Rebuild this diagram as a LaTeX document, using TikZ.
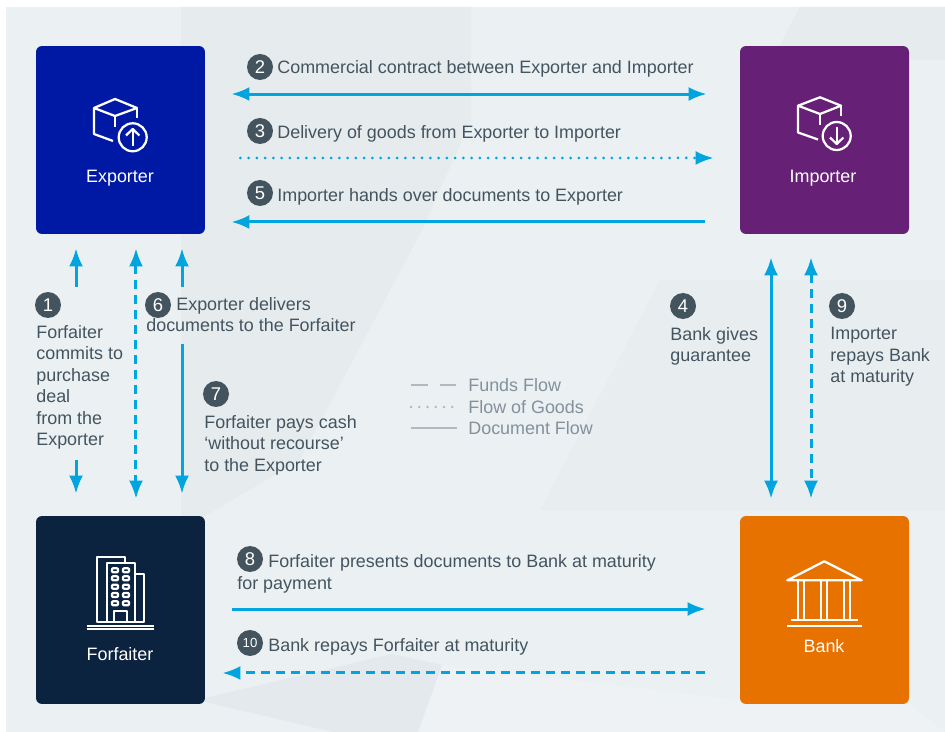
\documentclass[tikz,border=0pt]{standalone}
\usepackage{fontspec}
\setmainfont{Liberation Sans}
\usepackage{xcolor}
\usetikzlibrary{arrows.meta,positioning,calc}
\definecolor{paper}{HTML}{EBF0F3}
\definecolor{paperdark}{HTML}{E6EBEE}
\definecolor{paperfaint}{HTML}{E8EDF0}
\definecolor{paperdeep}{HTML}{E3E9EC}
\definecolor{paperlight}{HTML}{EEF2F5}
\definecolor{exportblue}{HTML}{0019A5}
\definecolor{importpurple}{HTML}{662075}
\definecolor{forfaitnavy}{HTML}{0C233F}
\definecolor{bankorange}{HTML}{E87200}
\definecolor{flowblue}{HTML}{00A5DF}
\definecolor{slate}{HTML}{44545F}
\definecolor{legendtext}{HTML}{82919C}
\definecolor{legendline}{HTML}{AEB9C0}
\tikzset{
	party/.style={rectangle, rounded corners=0.12cm, minimum width=3.38cm, minimum height=3.76cm, inner sep=0pt},
	partyname/.style={text=white, inner sep=0pt, font=\fontsize{10.2pt}{12.2pt}\selectfont},
	badge/.style={circle, fill=slate, text=white, minimum size=0.52cm, inner sep=0pt, font=\fontsize{10.5pt}{10.5pt}\selectfont},
	steptext/.style={text=slate, inner sep=0pt, align=left, anchor=north west, font=\fontsize{10.2pt}{12.2pt}\selectfont},
	legendlabel/.style={text=legendtext, inner sep=0pt, anchor=west, font=\fontsize{10.2pt}{12.2pt}\selectfont},
	flow/.style={draw=flowblue, line width=0.06cm, -{Latex[length=0.36cm,width=0.28cm]}},
	twoway/.style={flow, {Latex[length=0.36cm,width=0.28cm]}-{Latex[length=0.36cm,width=0.28cm]}},
	funds/.style={dash pattern=on 0.18cm off 0.12cm},
	goods/.style={line cap=round, dash pattern=on 0pt off 4.7pt},
	icon/.style={draw=white, line width=0.045cm, line join=round},
	legendstroke/.style={draw=legendline, line width=0.055cm}
}
\begin{document}
\begin{tikzpicture}[x=0.02cm, y=-0.02cm]
	\useasboundingbox (0,0) rectangle (945,732);
	\fill[paper] (6,7) rectangle (945,732);
	\fill[paperdark] (181,7) -- (471,7) -- (471,120) -- (422,230) -- (300,460) -- (205,516) -- (181,516) -- cycle;
	\fill[paperdark] (800,7) -- (945,7) -- (945,60) -- (772,60) -- cycle;
	\fill[paperfaint] (660,280) -- (945,280) -- (945,510) -- (540,510) -- cycle;
	\fill[paperlight] (442,665) -- (740,700) -- (909,704) -- (945,732) -- (418,732) -- cycle;
	\fill[paperdeep] (205,698) -- (392,654) -- (442,665) -- (418,732) -- (333,732) -- (205,702) -- cycle;

	\node at (120.5,140) [party, fill=exportblue] (Exp) {};
	\node at (824.5,140) [party, fill=importpurple] (Imp) {};
	\node at (120.5,610) [party, fill=forfaitnavy] (For) {};
	\node at (824.5,610) [party, fill=bankorange] (Ban) {};

	\node at (120,178) [partyname] (ExpName) {Exporter};
	\node at (823,178) [partyname] (ImpName) {Importer};
	\node at (120,654) [partyname] (ForName) {Forfaiter};
	\node at (824,646) [partyname] (BanName) {Bank};

	% box icons
	\begin{scope}[icon]
		\draw (113,141) -- (94,134) -- (94,108) -- (115,99) -- (137,108) -- (115,116) -- (94,108);
		\draw (115,116) -- (115,127);
		\draw (137,108) -- (137,118);
		\draw (132.7,137.3) circle (14);
		\draw (132.7,146) -- (132.7,130);
		\draw (126,135.5) -- (132.7,129) -- (139.4,135.5);
		\draw (818,139.5) -- (798,132.5) -- (798,105.7) -- (820,97.3) -- (841,105.7) -- (820,114) -- (798,105.7);
		\draw (820,114) -- (820,125);
		\draw (841,105.7) -- (841,116);
		\draw (836.7,136) circle (14);
		\draw (836.7,127) -- (836.7,143);
		\draw (830,137.5) -- (836.7,144) -- (843.4,137.5);
	\end{scope}

	% building
	\begin{scope}[icon]
		\draw (107,621.7) -- (96.7,621.7) -- (96.7,556.7) -- (125,556.7) -- (125,563);
		\draw (107,621.7) -- (107,563) -- (135,563) -- (135,621.7) -- cycle;
		\draw (135,574) -- (144.3,574) -- (144.3,621.7) -- (135,621.7);
		\foreach \wx in {115,126}
			\foreach \wy in {570.3,578.3,586.7,595,603.3}
				\draw[rounded corners=0.02cm] (\wx-3,\wy-2) rectangle (\wx+3,\wy+2);
		\draw (113.7,621.7) -- (113.7,610.7) -- (126.7,610.7) -- (126.7,621.7);
		\draw (86.7,625.7) -- (153.7,625.7);
		\draw (86.7,629.3) -- (153.7,629.3);
	\end{scope}

	% bank
	\begin{scope}[icon]
		\draw (787.3,580.3) -- (824.3,561.3) -- (861.7,580.3) -- cycle;
		\foreach \cx in {797.7,804,820.7,827,843.7,850}
			\draw (\cx,580.3) -- (\cx,620.3);
		\draw (791.3,620.3) -- (857.7,620.3);
		\draw (787.3,625.7) -- (861.7,625.7);
	\end{scope}

	\node at (260,67) [badge] (N2) {2};
	\node at (260,131) [badge] (N3) {3};
	\node at (260,193) [badge] (N5) {5};
	\node at (48,305) [badge] (N1) {1};
	\node at (158,305) [badge] (N6) {6};
	\node at (216,394) [badge] (N7) {7};
	\node at (683,306) [badge] (N4) {4};
	\node at (842,306) [badge] (N9) {9};
	\node at (250,559) [badge] (N8) {8};
	\node at (250,643) [badge, font=\fontsize{7.5pt}{8pt}\selectfont] (N10) {10};

	\node at (277,60) [steptext] (T2) {Commercial contract between Exporter and Importer};
	\node at (277,125) [steptext] (T3) {Delivery of goods from Exporter to Importer};
	\node at (277,188) [steptext] (T5) {Importer hands over documents to Exporter};
	\node at (36,325) [steptext] (T1) {Forfaiter\\commits to\\purchase\\deal\\from the\\Exporter};
	\node at (146,297) [steptext] (T6) {\hspace*{0.6cm}Exporter delivers\\documents to the Forfaiter};
	\node at (204,415) [steptext] (T7) {Forfaiter pays cash\\‘without recourse’\\to the Exporter};
	\node at (670,327) [steptext] (T4) {Bank gives\\guarantee};
	\node at (830,327) [steptext] (T9) {Importer\\repays Bank\\at maturity};
	\node at (268,554) [steptext] (T8) {Forfaiter presents documents to Bank at maturity};
	\node at (237,576) [steptext] (T8b) {for payment};
	\node at (268,638) [steptext] (T10) {Bank repays Forfaiter at maturity};

	\draw[twoway, shorten <=0.52cm, shorten >=0.66cm] ([yshift=0.92cm]Exp.east) -- ([yshift=0.92cm]Imp.west);
	\draw[flow, goods, shorten <=0.7cm, shorten >=0.52cm] ([yshift=-0.36cm]Exp.east) -- ([yshift=-0.36cm]Imp.west);
	\draw[flow, shorten <=0.7cm, shorten >=0.52cm] ([yshift=-1.64cm]Imp.west) -- ([yshift=-1.64cm]Exp.east);
	\draw[flow, shorten <=0.54cm, shorten >=0.68cm] ([yshift=0.02cm]For.east) -- ([yshift=0.02cm]Ban.west);
	\draw[flow, funds, shorten <=0.7cm, shorten >=0.34cm] ([yshift=-1.26cm]Ban.west) -- ([yshift=-1.26cm]For.east);

	\coordinate (A1up) at (76,287);
	\coordinate (A1dn) at (76,460);
	\coordinate (A6) at (182,287);
	\coordinate (A7) at (182,344);
	\draw[flow, shorten >=0.28cm] (A1up) -- (A1up |- Exp.south);
	\draw[flow, shorten >=0.44cm] (A1dn) -- (A1dn |- For.north);
	\draw[flow, shorten >=0.28cm] (A6) -- (A6 |- Exp.south);
	\draw[flow, shorten >=0.44cm] (A7) -- (A7 |- For.north);
	\draw[twoway, funds, shorten <=0.28cm, shorten >=0.34cm] ([xshift=0.31cm]Exp.south) -- ([xshift=0.31cm]For.north);
	\draw[twoway, shorten <=0.46cm, shorten >=0.34cm] ([xshift=-1.07cm]Imp.south) -- ([xshift=-1.07cm]Ban.north);
	\draw[twoway, funds, shorten <=0.46cm, shorten >=0.34cm] ([xshift=-0.27cm]Imp.south) -- ([xshift=-0.27cm]Ban.north);

	\node at (468,385) [legendlabel] (L1) {Funds Flow};
	\node at (468,407) [legendlabel] (L2) {Flow of Goods};
	\node at (468,428) [legendlabel] (L3) {Document Flow};
	\coordinate (L1s) at (411,385);
	\coordinate (L2s) at (411,407);
	\coordinate (L3s) at (411,428);
	\draw[legendstroke, dash pattern=on 0.33cm off 0.24cm] (L1s) -- ++(46,0);
	\draw[legendstroke, goods] (L2s) -- ++(46,0);
	\draw[legendstroke] (L3s) -- ++(46,0);
\end{tikzpicture}
\end{document}
